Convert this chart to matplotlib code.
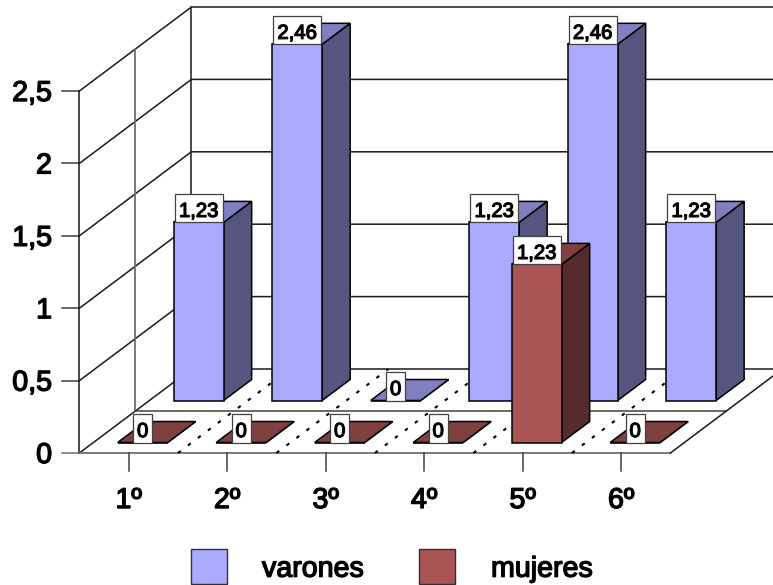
import matplotlib
matplotlib.use('Agg')
import matplotlib.pyplot as plt
import matplotlib.patheffects as pe
from matplotlib.patches import Polygon, Rectangle

plt.rcParams['font.family'] = ['Liberation Sans', 'DejaVu Sans']

# data
categories = ['1º', '2º', '3º', '4º', '5º', '6º']
varones = [1.23, 2.46, 0, 1.23, 2.46, 1.23]
mujeres = [0, 0, 0, 0, 1.23, 0]
y_ticks = [0, 0.5, 1, 1.5, 2, 2.5]

# oblique projection of the 3D box, in pixels
X0, Y0 = 79.4, 453
CAT_W = 98.5
UNIT = 144.8
DEPTH_X, DEPTH_Y = 112, 84
BAR_W = 50 / CAT_W

VAR_COLORS = ('#AAAAFF', '#8080C0', '#555580')
MUJ_COLORS = ('#AA5555', '#804040', '#552B2B')
DARK = '#1a1a1a'
GRAY = '#707070'


def project(cat, depth, value):
    return (X0 + cat * CAT_W + depth * DEPTH_X, Y0 - depth * DEPTH_Y - value * UNIT)


def fmt(v):
    return f'{v:g}'.replace('.', ',')


def bold_text(ax, x, y, s, size, ha='center', zorder=20, stroke=1.0):
    # y is the text baseline
    t = ax.text(x, y, s, fontsize=size, ha=ha, va='baseline', color='black', zorder=zorder)
    t.set_path_effects([pe.withStroke(linewidth=stroke, foreground='black')])
    return t


def draw_bar(ax, i, series, value, colors, zorder):
    left = i + (1 - BAR_W) / 2
    right = left + BAR_W
    d0 = (series + 0.25) / 2
    d1 = (series + 0.75) / 2
    front = [project(left, d0, 0), project(right, d0, 0), project(right, d0, value), project(left, d0, value)]
    top = [project(left, d0, value), project(right, d0, value), project(right, d1, value), project(left, d1, value)]
    side = [project(right, d0, 0), project(right, d1, 0), project(right, d1, value), project(right, d0, value)]
    for pts, col in zip((side, top, front), (colors[2], colors[1], colors[0])):
        ax.add_patch(Polygon(pts, closed=True, facecolor=col, edgecolor='black', linewidth=1.1, zorder=zorder))


def draw_label(ax, i, series, value, zorder):
    s = fmt(value)
    cx, y = project(i + 0.5, (series + 0.25) / 2, value)
    w = 48 if len(s) > 1 else 19
    h = 28.5
    ax.add_patch(Rectangle((cx - w / 2, y - h), w, h, facecolor='white', edgecolor='#404040',
                           linewidth=0.9, zorder=zorder))
    bold_text(ax, cx, y - 5.5, s, 14.6, zorder=zorder + 1, stroke=0.9)


fig = plt.figure(figsize=(7.73, 5.85), dpi=100)
ax = fig.add_axes([0, 0, 1, 1])
ax.set_xlim(0, 773)
ax.set_ylim(585, 0)
ax.axis('off')

# walls and grid
n = len(categories)
for v in y_ticks:
    a = project(0, 0, v)
    b = project(0, 1, v)
    c = project(n, 1, v)
    ax.plot([a[0], b[0], c[0]], [a[1], b[1], c[1]], color=DARK, lw=1.1, zorder=1)
    ax.plot([a[0] - 17, a[0]], [a[1], a[1]], color=GRAY if v == 0 else '#404040', lw=1.1, zorder=1)
    bold_text(ax, 52, a[1] + 10, fmt(v), 20.6, ha='right')

top_v = y_ticks[-1]
for depth, col, lw in ((0, DARK, 1.1), (0.5, GRAY, 1.3), (1, DARK, 1.1)):
    p0 = project(0, depth, 0)
    p1 = project(0, depth, top_v)
    ax.plot([p0[0], p1[0]], [p0[1], p1[1]], color=col, lw=lw, zorder=2)

# floor
ax.plot(*zip(project(0, 0, 0), project(n, 0, 0)), color=GRAY, lw=1.3, zorder=2)
ax.plot(*zip(project(0, 0.5, 0), project(n, 0.5, 0)), color='#404040', lw=1.1, zorder=2)
ax.plot(*zip(project(n, 0, 0), project(n, 1, 0)), color=DARK, lw=1.1, zorder=2)
for i in range(1, n):
    ax.plot(*zip(project(i, 0, 0), project(i, 1, 0)), color='black', lw=1.5,
            linestyle=(0, (1.7, 4.3)), zorder=2)

# category ticks and labels
for i, cat in enumerate(categories):
    x, y = project(i + 0.5, 0, 0)
    ax.plot([x, x], [y, y + 18], color='#404040', lw=1.1, zorder=2)
    bold_text(ax, x, 508, cat, 20.6)

# bars, back series first
for i, v in enumerate(varones):
    draw_bar(ax, i, 1, v, VAR_COLORS, 5)
for i, v in enumerate(mujeres):
    draw_bar(ax, i, 0, v, MUJ_COLORS, 8 + i)
for i, v in enumerate(varones):
    draw_label(ax, i, 1, v, 6)
for i, v in enumerate(mujeres):
    draw_label(ax, i, 0, v, 15)

# legend
ax.add_patch(Rectangle((190.5, 549), 36, 35, facecolor=VAR_COLORS[0], edgecolor='#303030', lw=1.0, zorder=3))
ax.add_patch(Rectangle((419, 549), 36, 35, facecolor=MUJ_COLORS[0], edgecolor='#303030', lw=1.0, zorder=3))
bold_text(ax, 262, 576.7, 'varones', 20.6, ha='left')
bold_text(ax, 491, 576.7, 'mujeres', 20.6, ha='left')

fig.savefig('out.png', dpi=100)
